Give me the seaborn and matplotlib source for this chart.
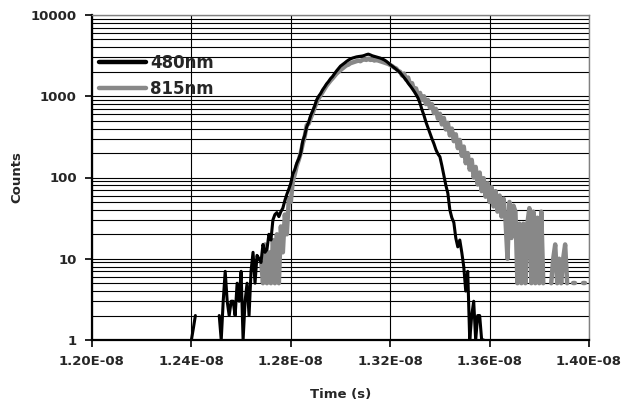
import numpy as np
import pandas as pd
import matplotlib
matplotlib.use("Agg")
import matplotlib.pyplot as plt
import matplotlib.ticker as mtick
from matplotlib.lines import Line2D
import seaborn as sns

sns.set_style("white")
plt.rcParams['font.family'] = ['DejaVu Sans']
plt.rcParams['font.weight'] = 'bold'

"""data: photon counts per time bin (0 = empty bin)"""

bin_width = 8e-12            # s
start_480 = 1.240e-8         # time of first bin, 480nm
start_815 = 1.268e-8         # time of first bin, 815nm

counts_480 = [
    1, 1.4, 2, 0, 0, 0, 0, 0, 0, 0, 0, 0, 0, 0,
    2, 1, 3, 7, 3, 2, 3, 3, 2, 5, 3, 7, 1, 3, 5, 2,
    7, 12, 5, 11, 10, 9, 15, 12, 13, 20, 17, 30, 35, 37, 33, 38,
    42, 52, 62, 72, 85, 110, 125, 150, 170, 200, 280, 330, 420, 480,
    580, 660, 760, 900, 1000, 1080, 1200, 1300, 1420, 1520,
    1650, 1750, 1900, 2050, 2200, 2350, 2450, 2560, 2680, 2790,
    2880, 2950, 3000, 3050, 3080, 3100, 3130, 3180, 3250, 3300,
    3230, 3150, 3100, 3050, 3000, 2950, 2880, 2800, 2700, 2580,
    2450, 2350, 2250, 2150, 2050, 1950, 1820, 1700, 1580, 1450,
    1350, 1250, 1150, 1050, 950, 820, 680, 580, 480, 410,
    350, 300, 260, 220, 195, 180, 140, 105, 80, 64,
    40, 32, 28, 18, 14, 17, 12, 8, 4, 7,
    1, 2, 3, 1, 2, 2, 1, 1,
]

counts_815 = [
    10, 5, 15, 5, 12, 5, 17, 5, 20, 5, 25, 12, 35, 20, 55,
    50, 90, 110, 140, 165, 200, 260, 320, 440, 460,
    540, 620, 720, 840, 940, 1030, 1130, 1230, 1350, 1450,
    1560, 1660, 1780, 1900, 2000, 2100, 2200, 2300, 2400, 2450,
    2550, 2600, 2650, 2700, 2750, 2700, 2800, 2850, 2800, 2900,
    2800, 2850, 2750, 2800, 2750, 2700, 2650, 2600, 2550, 2500,
    2420, 2350, 2250, 2200, 2050, 2000, 1800, 1900, 1600, 1700,
    1400, 1450, 1200, 1250, 1000, 1100, 900, 1000, 800, 900,
    720, 800, 620, 700, 530, 610, 450, 540, 390, 470,
    330, 400, 280, 340, 230, 290, 185, 240, 150, 200,
    125, 165, 100, 135, 82, 115, 68, 98, 58, 85,
    50, 76, 44, 68, 38, 60, 33, 55, 30, 10,
    50, 18, 45, 38, 5, 27, 5, 27, 5, 27,
    42, 5, 38, 5, 32, 5, 38, 5, 0, 0,
    0, 5, 10, 15, 5, 10, 5, 10, 15, 5,
    0, 0, 5, 5, 0, 0, 0, 5, 5, 0, 0,
]

series = ['480nm', '815nm']
colors = {'480nm': 'black', '815nm': '#888888'}
widths = {'480nm': 2.2, '815nm': 3.2}

x_ticks = [1.20e-8, 1.24e-8, 1.28e-8, 1.32e-8, 1.36e-8, 1.40e-8]
y_ticks = [1, 10, 100, 1000, 10000]


def to_frame(start, counts, name):
    c = np.asarray(counts, dtype=float)
    t = start + bin_width * np.arange(len(c))
    empty = c <= 0
    df = pd.DataFrame({'time': t, 'counts': c, 'seg': np.cumsum(empty)})
    df = df[~empty]
    df['series'] = name
    return df


frames = {'480nm': to_frame(start_480, counts_480, '480nm'),
          '815nm': to_frame(start_815, counts_815, '815nm')}

#%% plot

fig = plt.figure(figsize=(6.22, 4.05), dpi=100)
ax = fig.add_axes([92 / 622, 1 - 340 / 405, 497 / 622, 325 / 405])
ax.set_yscale('log')

for name in ['815nm', '480nm']:       # black on top
    sns.lineplot(data=frames[name], x='time', y='counts', units='seg',
                 estimator=None, sort=False, color=colors[name],
                 lw=widths[name], legend=False, ax=ax)

ax.set_xlim(x_ticks[0], x_ticks[-1])
ax.set_ylim(y_ticks[0], y_ticks[-1])
ax.set_xticks(x_ticks)
ax.set_yticks(y_ticks)
ax.xaxis.set_major_formatter(mtick.FuncFormatter(lambda v, p: '{:.2E}'.format(v)))
ax.yaxis.set_major_formatter(mtick.FuncFormatter(lambda v, p: '{:g}'.format(v)))
ax.yaxis.set_minor_locator(mtick.LogLocator(base=10, subs=np.arange(2, 10)))
ax.yaxis.set_minor_formatter(mtick.NullFormatter())

ax.set_axisbelow(True)
ax.grid(which='both', axis='y', color='black', lw=0.8)
ax.grid(which='major', axis='x', color='black', lw=0.8)

ax.tick_params(which='major', bottom=True, left=True, direction='out',
               length=5, width=1.2, color='black', labelsize=9.5, pad=6)
ax.tick_params(which='minor', length=0)

for side in ['left', 'bottom']:
    ax.spines[side].set_color('black')
    ax.spines[side].set_linewidth(1.6)
for side in ['top', 'right']:
    ax.spines[side].set_color('#808080')
    ax.spines[side].set_linewidth(1.0)

ax.set_xlabel('Time (s)', fontsize=9.5, fontweight='bold', labelpad=14)
ax.set_ylabel('Counts', fontsize=9.5, fontweight='bold', labelpad=5)

handles = [Line2D([], [], color=colors[s], lw=3.2) for s in series]
ax.legend(handles, series, loc='upper left', bbox_to_anchor=(0.014, 0.88),
          frameon=False, borderpad=0, borderaxespad=0, handlelength=2.8,
          handletextpad=0.25, labelspacing=0.45,
          prop={'size': 12, 'weight': 'bold'})

fig.savefig('out.png', dpi=100)
